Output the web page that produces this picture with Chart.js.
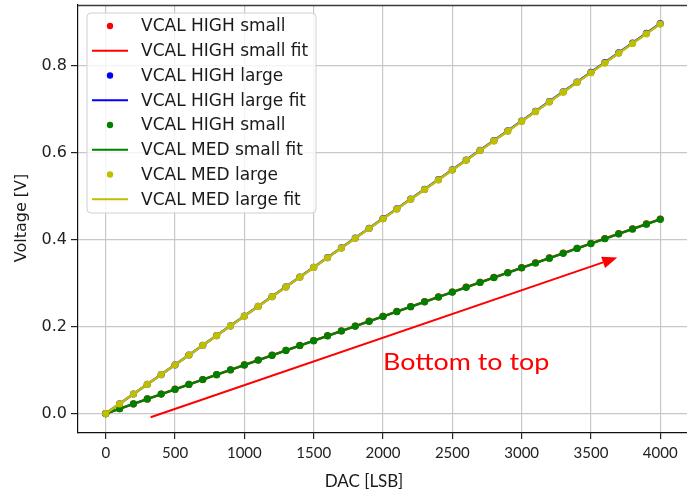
<!DOCTYPE html>
<html>
<head>
<meta charset="utf-8">
<script src="https://cdn.jsdelivr.net/npm/chart.js@4/dist/chart.umd.min.js"></script>
<style>
  html, body { margin: 0; padding: 0; background: #fff; overflow: hidden; }
  #wrap { width: 687px; height: 495px; overflow: hidden; }
  canvas { display: block; }
</style>
</head>
<body>
<div id="wrap"><canvas id="c" width="700" height="495"></canvas></div>
<script>
// DAC codes of the calibration scan
const dacCodes = [0, 100, 200, 300, 400, 500, 600, 700, 800, 900, 1000,
  1100, 1200, 1300, 1400, 1500, 1600, 1700, 1800, 1900, 2000,
  2100, 2200, 2300, 2400, 2500, 2600, 2700, 2800, 2900, 3000,
  3100, 3200, 3300, 3400, 3500, 3600, 3700, 3800, 3900, 4000];

// Measured voltages [V]
const vcalHighSmall = [0.0000, 0.0112, 0.0224, 0.0336, 0.0448, 0.0560, 0.0671, 0.0783, 0.0895, 0.1007, 0.1119,
  0.1231, 0.1342, 0.1454, 0.1566, 0.1678, 0.1790, 0.1902, 0.2013, 0.2125, 0.2237,
  0.2349, 0.2461, 0.2572, 0.2684, 0.2796, 0.2908, 0.3020, 0.3132, 0.3243, 0.3355,
  0.3467, 0.3579, 0.3691, 0.3802, 0.3914, 0.4026, 0.4138, 0.4250, 0.4362, 0.4473];
const vcalHighLarge = [0.0000, 0.0224, 0.0449, 0.0673, 0.0897, 0.1121, 0.1346, 0.1570, 0.1794, 0.2018, 0.2243,
  0.2467, 0.2691, 0.2915, 0.3140, 0.3364, 0.3588, 0.3812, 0.4037, 0.4261, 0.4485,
  0.4709, 0.4934, 0.5158, 0.5382, 0.5606, 0.5831, 0.6055, 0.6279, 0.6503, 0.6728,
  0.6952, 0.7176, 0.7400, 0.7625, 0.7849, 0.8073, 0.8297, 0.8522, 0.8746, 0.8970];
const vcalMedSmall = [0.0000, 0.0112, 0.0223, 0.0335, 0.0447, 0.0559, 0.0670, 0.0782, 0.0894, 0.1005, 0.1117,
  0.1229, 0.1340, 0.1452, 0.1564, 0.1676, 0.1787, 0.1899, 0.2011, 0.2122, 0.2234,
  0.2346, 0.2457, 0.2569, 0.2681, 0.2793, 0.2904, 0.3016, 0.3128, 0.3239, 0.3351,
  0.3463, 0.3574, 0.3686, 0.3798, 0.3910, 0.4021, 0.4133, 0.4245, 0.4356, 0.4468];
const vcalMedLarge = [0.0000, 0.0224, 0.0448, 0.0672, 0.0896, 0.1120, 0.1344, 0.1568, 0.1792, 0.2016, 0.2240,
  0.2464, 0.2688, 0.2912, 0.3136, 0.3360, 0.3584, 0.3808, 0.4032, 0.4256, 0.4480,
  0.4704, 0.4928, 0.5152, 0.5376, 0.5600, 0.5824, 0.6048, 0.6272, 0.6496, 0.6720,
  0.6944, 0.7168, 0.7392, 0.7616, 0.7840, 0.8064, 0.8288, 0.8512, 0.8736, 0.8960];

// Linear fit endpoints
const fitCodes = [0, 4000];
const fitHighSmall = [0.0000, 0.4473];
const fitHighLarge = [0.0000, 0.8970];
const fitMedSmall = [0.0000, 0.4468];
const fitMedLarge = [0.0000, 0.8960];

// Tick labels
const xTicks = [0, 500, 1000, 1500, 2000, 2500, 3000, 3500, 4000];
const yTicks = [0.0, 0.2, 0.4, 0.6, 0.8];

// Legend entries
const legendLabels = ['VCAL HIGH small', 'VCAL HIGH small fit', 'VCAL HIGH large', 'VCAL HIGH large fit',
  'VCAL HIGH small', 'VCAL MED small fit', 'VCAL MED large', 'VCAL MED large fit'];

// Annotation: arrow in data coordinates and its caption
const arrowFrom = { x: 324, y: -0.0086 };
const arrowTo = { x: 3690, y: 0.359 };
const noteText = 'Bottom to top';
const notePos = { x: 2000, y: 0.1 };

const xTitle = 'DAC [LSB]';
const yTitle = 'Voltage [V]';

const RED = '#ff0000', BLUE = '#0000ff', GREEN = '#008000', YELLOW = '#bfbf00';

const pts = (xs, ys) => xs.map((x, i) => ({ x: x, y: ys[i] }));

function pointSet(label, ys, color) {
  return { label, data: pts(dacCodes, ys), showLine: false, pointRadius: 3.6,
    pointBorderWidth: 0, pointBackgroundColor: color, borderColor: color, backgroundColor: color, kind: 'point' };
}
function fitSet(label, ys, color) {
  return { label, data: pts(fitCodes, ys), showLine: true, pointRadius: 0, borderWidth: 2.4,
    borderColor: color, backgroundColor: color, fill: false, kind: 'line' };
}

const datasets = [
  pointSet(legendLabels[0], vcalHighSmall, RED),
  fitSet(legendLabels[1], fitHighSmall, RED),
  pointSet(legendLabels[2], vcalHighLarge, BLUE),
  fitSet(legendLabels[3], fitHighLarge, BLUE),
  pointSet(legendLabels[4], vcalMedSmall, GREEN),
  fitSet(legendLabels[5], fitMedSmall, GREEN),
  pointSet(legendLabels[6], vcalMedLarge, YELLOW),
  fitSet(legendLabels[7], fitMedLarge, YELLOW)
];
// later entries are painted on top
datasets.forEach((d, i) => { d.order = datasets.length - 1 - i; });

const decorations = {
  id: 'decorations',
  afterDatasetsDraw(chart) {
    const { ctx, chartArea: a, scales: { x, y } } = chart;
    ctx.save();

    // top spine
    ctx.strokeStyle = '#3a3a3a';
    ctx.lineWidth = 1.5;
    ctx.beginPath();
    ctx.moveTo(a.left, a.top + 0.5);
    ctx.lineTo(a.right, a.top + 0.5);
    ctx.stroke();

    // arrow
    const x0 = x.getPixelForValue(arrowFrom.x), y0 = y.getPixelForValue(arrowFrom.y);
    const x1 = x.getPixelForValue(arrowTo.x), y1 = y.getPixelForValue(arrowTo.y);
    const ang = Math.atan2(y1 - y0, x1 - x0);
    const headLen = 15, headHalf = 6;
    const bx = x1 - headLen * Math.cos(ang), by = y1 - headLen * Math.sin(ang);
    ctx.strokeStyle = RED;
    ctx.fillStyle = RED;
    ctx.lineWidth = 2;
    ctx.beginPath();
    ctx.moveTo(x0, y0);
    ctx.lineTo(bx, by);
    ctx.stroke();
    ctx.beginPath();
    ctx.moveTo(x1, y1);
    ctx.lineTo(bx + headHalf * Math.sin(ang), by - headHalf * Math.cos(ang));
    ctx.lineTo(bx - headHalf * Math.sin(ang), by + headHalf * Math.cos(ang));
    ctx.closePath();
    ctx.fill();

    // caption, slightly widened
    ctx.save();
    ctx.font = '24px Lato';
    ctx.textAlign = 'left';
    ctx.textBaseline = 'alphabetic';
    ctx.translate(x.getPixelForValue(notePos.x), y.getPixelForValue(notePos.y));
    ctx.scale(1.12, 1);
    ctx.fillText(noteText, 0, 0);
    ctx.restore();

    // legend box
    const lx = 87, ly = 13, lw = 229, lh = 200, r = 4;
    ctx.beginPath();
    ctx.moveTo(lx + r, ly);
    ctx.arcTo(lx + lw, ly, lx + lw, ly + lh, r);
    ctx.arcTo(lx + lw, ly + lh, lx, ly + lh, r);
    ctx.arcTo(lx, ly + lh, lx, ly, r);
    ctx.arcTo(lx, ly, lx + lw, ly, r);
    ctx.closePath();
    ctx.fillStyle = 'rgba(255,255,255,0.8)';
    ctx.fill();
    ctx.strokeStyle = '#d0d0d0';
    ctx.lineWidth = 1;
    ctx.stroke();

    ctx.font = '17px "DejaVu Sans"';
    ctx.textBaseline = 'middle';
    datasets.forEach((d, i) => {
      const cy = 26 + i * 24.75;
      const color = d.borderColor;
      if (d.kind === 'point') {
        ctx.fillStyle = color;
        ctx.beginPath();
        ctx.arc(110, cy, 3.2, 0, Math.PI * 2);
        ctx.fill();
      } else {
        ctx.strokeStyle = color;
        ctx.lineWidth = 2.2;
        ctx.beginPath();
        ctx.moveTo(92, cy);
        ctx.lineTo(128, cy);
        ctx.stroke();
      }
      ctx.fillStyle = '#1a1a1a';
      ctx.fillText(d.label, 141, cy + 1);
    });

    ctx.restore();
  },
  afterDraw(chart) {
    const { ctx } = chart;
    ctx.save();
    ctx.fillStyle = '#1a1a1a';
    // x axis title
    ctx.font = '17px Lato';
    ctx.textAlign = 'center';
    ctx.textBaseline = 'alphabetic';
    ctx.fillText(xTitle, 364, 487);
    // y axis title
    ctx.translate(22, 218);
    ctx.rotate(-Math.PI / 2);
    ctx.font = '16px "DejaVu Sans"';
    ctx.textBaseline = 'middle';
    ctx.fillText(yTitle, 0, 0);
    ctx.restore();
  }
};

function fixPadding(scale) {
  scale.paddingTop = 0; scale.paddingBottom = 0;
  scale.paddingLeft = 0; scale.paddingRight = 0;
}

new Chart(document.getElementById('c'), {
  type: 'scatter',
  data: { datasets },
  options: {
    responsive: false,
    animation: false,
    devicePixelRatio: 1,
    layout: { padding: { left: 0, right: 12, top: 5, bottom: 0 } },
    plugins: { legend: { display: false }, tooltip: { enabled: false } },
    elements: { line: { tension: 0 } },
    scales: {
      x: {
        type: 'linear',
        min: -200, max: 4200,
        afterBuildTicks(s) { s.ticks = xTicks.map(v => ({ value: v })); },
        afterFit(s) { s.height = 62; fixPadding(s); },
        grid: { color: '#c8c8c8', lineWidth: 1.2, tickColor: '#222', tickLength: 6, drawTicks: true },
        border: { display: true, color: '#111', width: 1.2 },
        ticks: { font: { family: 'Lato', size: 15 }, color: '#222', padding: 5, maxRotation: 0,
          autoSkip: false, callback: v => String(v) }
      },
      y: {
        type: 'linear',
        min: -0.0448, max: 0.9398,
        afterBuildTicks(s) { s.ticks = yTicks.map(v => ({ value: v })); },
        afterFit(s) { s.width = 78; fixPadding(s); },
        grid: { color: '#c8c8c8', lineWidth: 1.2, tickColor: '#222', tickLength: 7, drawTicks: true },
        border: { display: true, color: '#111', width: 1.2 },
        ticks: { font: { family: 'DejaVu Sans', size: 16 }, color: '#222', padding: 4,
          autoSkip: false, callback: v => Number(v).toFixed(1) }
      }
    }
  },
  plugins: [decorations]
});
</script>
</body>
</html>
